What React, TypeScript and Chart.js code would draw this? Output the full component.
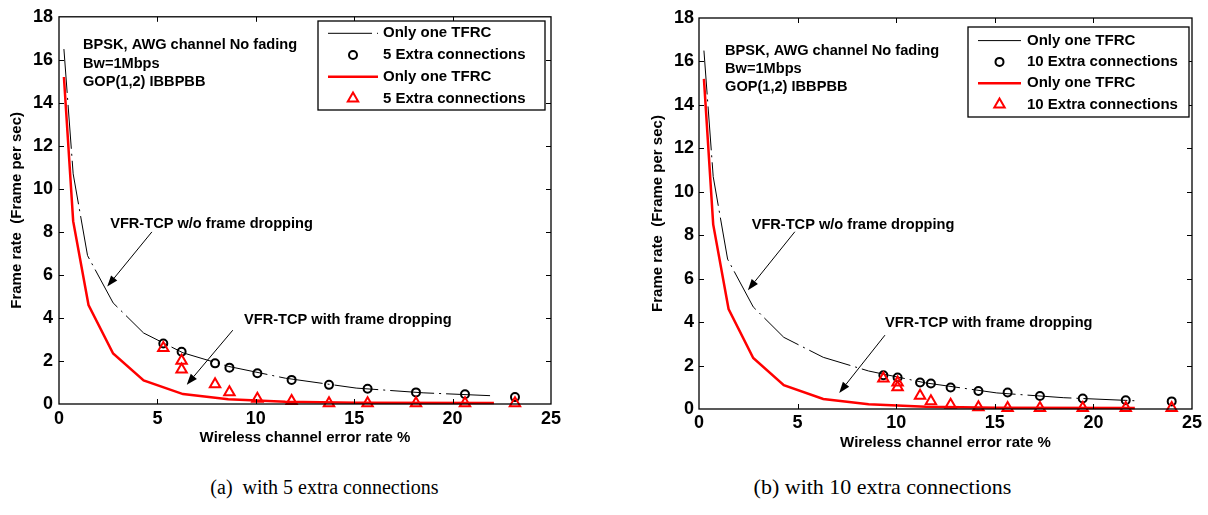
import React, { useEffect, useRef } from 'react';
import { Chart, registerables } from 'chart.js';

Chart.register(...registerables);

// ---------- data ----------
const xTickValues = [0, 5, 10, 15, 20, 25];
const yTickValues = [0, 2, 4, 6, 8, 10, 12, 14, 16, 18];

// "Only one TFRC" curves (same in both panels)
const tfrcNoDropX = [0.25, 0.72, 1.45, 2.75, 4.3, 6.3, 8.6, 11.5, 15.1, 18.5, 22.1];
const tfrcNoDropY = [16.5, 10.7, 6.9, 4.7, 3.3, 2.38, 1.75, 1.2, 0.74, 0.52, 0.38];
const tfrcDropX = [0.25, 0.72, 1.5, 2.75, 4.3, 6.3, 8.6, 11.5, 15.1, 22.1];
const tfrcDropY = [15.2, 8.5, 4.6, 2.35, 1.1, 0.46, 0.22, 0.1, 0.06, 0.05];

// 5 extra connections
const extra5NoDropX = [5.3, 6.23, 7.93, 8.66, 10.08, 11.82, 13.72, 15.68, 18.14, 20.63, 23.17];
const extra5NoDropY = [2.81, 2.43, 1.89, 1.69, 1.43, 1.12, 0.89, 0.71, 0.54, 0.45, 0.32];
const extra5DropX = [5.3, 6.23, 6.23, 7.93, 8.66, 10.08, 11.82, 13.72, 15.68, 18.14, 20.63, 23.17];
const extra5DropY = [2.6, 2.01, 1.6, 0.92, 0.55, 0.24, 0.14, 0.04, 0.04, 0.04, 0.04, 0.04];

// 10 extra connections
const extra10NoDropX = [9.35, 10.07, 11.21, 11.76, 12.76, 14.17, 15.65, 17.29, 19.46, 21.64, 23.97];
const extra10NoDropY = [1.55, 1.45, 1.22, 1.17, 0.99, 0.83, 0.76, 0.6, 0.48, 0.4, 0.35];
const extra10DropX = [9.35, 10.07, 10.07, 11.21, 11.76, 12.76, 14.17, 15.65, 17.29, 19.46, 21.64, 23.97];
const extra10DropY = [1.4, 1.22, 1.0, 0.61, 0.36, 0.2, 0.08, 0.05, 0.05, 0.05, 0.05, 0.05];

// ---------- text ----------
const xTitle = 'Wireless channel error rate %';
const yTitle = 'Frame rate  (Frame per sec)';
const lineLabel = 'Only one TFRC';
const label5 = '5 Extra connections';
const label10 = '10 Extra connections';
const setupLines = ['BPSK, AWG channel No fading', 'Bw=1Mbps', 'GOP(1,2) IBBPBB'];
const noDropNote = 'VFR-TCP w/o frame dropping';
const dropNote = 'VFR-TCP with frame dropping';
const captionA = '(a)  with 5 extra connections';
const captionB = '(b) with 10 extra connections';

const FONT = '"Liberation Sans", Arial, Helvetica, sans-serif';

const zip = (xs: number[], ys: number[]) => xs.map((x, i) => ({ x, y: ys[i] }));

type Note = { lines: string[]; x: number; y: number; gap: number };
type Arrow = { from: [number, number]; to: [number, number] };
type LegendBox = {
  x: number; y: number; w: number; h: number;
  row0: number; rowGap: number; sample0: number; sample1: number; textX: number;
};

interface PanelProps {
  left: number;
  width: number;
  height: number;
  area: { left: number; top: number; right: number; bottom: number };
  yTitlePad: number;
  xTitlePad: number;
  xTickPad: number;
  yTickPad: number;
  markerLabel: string;
  circX: number[];
  circY: number[];
  triX: number[];
  triY: number[];
  notes: Note[];
  arrows: Arrow[];
  legend: LegendBox;
}

function drawMarker(ctx: CanvasRenderingContext2D, style: string, x: number, y: number, r: number) {
  ctx.beginPath();
  if (style === 'triangle') {
    let rad = 0;
    ctx.moveTo(x + Math.sin(rad) * r, y - Math.cos(rad) * r);
    rad += (2 * Math.PI) / 3;
    ctx.lineTo(x + Math.sin(rad) * r, y - Math.cos(rad) * r);
    rad += (2 * Math.PI) / 3;
    ctx.lineTo(x + Math.sin(rad) * r, y - Math.cos(rad) * r);
    ctx.closePath();
  } else {
    ctx.arc(x, y, r, 0, Math.PI * 2);
  }
  ctx.stroke();
}

function Panel(p: PanelProps) {
  const ref = useRef<HTMLCanvasElement>(null);

  useEffect(() => {
    const canvas = ref.current;
    if (!canvas) return;
    const a = p.area;
    const tickFont = { family: FONT, size: 18, weight: 'bold' as const };
    const titleFont = { family: FONT, size: 15, weight: 'bold' as const };

    const framePlugin = {
      id: 'frame',
      afterDatasetsDraw(chart: any) {
        const { ctx, chartArea: ca, scales } = chart;
        ctx.save();
        ctx.strokeStyle = '#000';
        ctx.lineWidth = 1;
        const L = 5;
        ctx.beginPath();
        scales.x.ticks.forEach((t: any) => {
          const px = Math.round(scales.x.getPixelForValue(t.value)) + 0.5;
          if (px <= ca.left + 2 || px >= ca.right - 2) return;
          ctx.moveTo(px, ca.bottom);
          ctx.lineTo(px, ca.bottom - L);
          ctx.moveTo(px, ca.top);
          ctx.lineTo(px, ca.top + L);
        });
        scales.y.ticks.forEach((t: any) => {
          const py = Math.round(scales.y.getPixelForValue(t.value)) + 0.5;
          if (py <= ca.top + 2 || py >= ca.bottom - 2) return;
          ctx.moveTo(ca.left, py);
          ctx.lineTo(ca.left + L, py);
          ctx.moveTo(ca.right, py);
          ctx.lineTo(ca.right - L, py);
        });
        ctx.stroke();
        ctx.lineWidth = 1.3;
        ctx.strokeRect(ca.left, ca.top, ca.right - ca.left, ca.bottom - ca.top);
        ctx.restore();
      },
    };

    const notesPlugin = {
      id: 'notes',
      afterDraw(chart: any) {
        const { ctx, scales } = chart;
        ctx.save();
        ctx.fillStyle = '#000';
        ctx.strokeStyle = '#000';
        ctx.font = `bold 14.6px ${FONT}`;
        ctx.textAlign = 'left';
        ctx.textBaseline = 'middle';
        p.notes.forEach((n) => {
          const x = scales.x.getPixelForValue(n.x);
          const y = scales.y.getPixelForValue(n.y);
          n.lines.forEach((t, i) => ctx.fillText(t, x, y + i * n.gap));
        });
        p.arrows.forEach((ar) => {
          const x1 = scales.x.getPixelForValue(ar.from[0]);
          const y1 = scales.y.getPixelForValue(ar.from[1]);
          const x2 = scales.x.getPixelForValue(ar.to[0]);
          const y2 = scales.y.getPixelForValue(ar.to[1]);
          const ang = Math.atan2(y2 - y1, x2 - x1);
          const len = 11;
          const half = 4;
          const bx = x2 - Math.cos(ang) * len;
          const by = y2 - Math.sin(ang) * len;
          ctx.lineWidth = 1;
          ctx.beginPath();
          ctx.moveTo(x1, y1);
          ctx.lineTo(bx, by);
          ctx.stroke();
          ctx.beginPath();
          ctx.moveTo(x2, y2);
          ctx.lineTo(bx + Math.sin(ang) * half, by - Math.cos(ang) * half);
          ctx.lineTo(bx - Math.sin(ang) * half, by + Math.cos(ang) * half);
          ctx.closePath();
          ctx.fill();
        });
        ctx.restore();
      },
    };

    const legendPlugin = {
      id: 'boxLegend',
      afterDraw(chart: any) {
        const { ctx } = chart;
        const b = p.legend;
        ctx.save();
        ctx.fillStyle = '#fff';
        ctx.fillRect(b.x, b.y, b.w, b.h);
        ctx.strokeStyle = '#000';
        ctx.lineWidth = 1.3;
        ctx.strokeRect(b.x, b.y, b.w, b.h);
        chart.data.datasets.forEach((ds: any, i: number) => {
          const cy = b.y + b.row0 + i * b.rowGap;
          ctx.save();
          ctx.strokeStyle = ds.borderColor;
          if (ds.showLine) {
            ctx.lineWidth = ds.borderWidth;
            ctx.setLineDash(ds.borderDash || []);
            ctx.beginPath();
            ctx.moveTo(b.x + b.sample0, cy);
            ctx.lineTo(b.x + b.sample1, cy);
            ctx.stroke();
          } else {
            ctx.lineWidth = ds.pointBorderWidth;
            drawMarker(ctx, ds.pointStyle, b.x + (b.sample0 + b.sample1) / 2, cy, ds.pointRadius);
          }
          ctx.restore();
          ctx.fillStyle = '#000';
          ctx.font = `bold 15px ${FONT}`;
          ctx.textAlign = 'left';
          ctx.textBaseline = 'middle';
          ctx.fillText(ds.label, b.x + b.textX, cy);
        });
        ctx.restore();
      },
    };

    const chart = new Chart(canvas, {
      type: 'scatter',
      data: {
        datasets: [
          {
            label: lineLabel,
            data: zip(tfrcNoDropX, tfrcNoDropY),
            showLine: true,
            borderColor: '#000',
            borderWidth: 1,
            borderDash: [44, 5, 2, 5],
            pointRadius: 0,
            order: 4,
            clip: false,
          } as any,
          {
            label: p.markerLabel,
            data: zip(p.circX, p.circY),
            showLine: false,
            pointStyle: 'circle',
            pointRadius: 4,
            pointBorderWidth: 2,
            borderColor: '#000',
            pointBorderColor: '#000',
            pointBackgroundColor: 'rgba(0,0,0,0)',
            backgroundColor: 'rgba(0,0,0,0)',
            order: 3,
            clip: false,
          },
          {
            label: lineLabel,
            data: zip(tfrcDropX, tfrcDropY),
            showLine: true,
            borderColor: '#ff0000',
            borderWidth: 2.5,
            pointRadius: 0,
            order: 2,
            clip: false,
          },
          {
            label: p.markerLabel,
            data: zip(p.triX, p.triY),
            showLine: false,
            pointStyle: 'triangle',
            pointRadius: 6,
            pointBorderWidth: 2,
            borderColor: '#ff0000',
            pointBorderColor: '#ff0000',
            pointBackgroundColor: 'rgba(0,0,0,0)',
            backgroundColor: 'rgba(0,0,0,0)',
            order: 1,
            clip: false,
          },
        ],
      },
      options: {
        responsive: false,
        animation: false,
        events: [],
        layout: { padding: { left: 0, top: a.top, right: p.width - a.right, bottom: 0 } },
        plugins: { legend: { display: false }, tooltip: { enabled: false } },
        scales: {
          x: {
            type: 'linear',
            min: 0,
            max: 25,
            afterBuildTicks: (s: any) => {
              s.ticks = xTickValues.map((v) => ({ value: v }));
            },
            afterFit: (s: any) => {
              s.height = p.height - a.bottom;
            },
            grid: { display: false, drawTicks: false, tickLength: 0 },
            border: { display: false },
            ticks: { color: '#000', font: tickFont, padding: p.xTickPad, maxRotation: 0, autoSkip: false },
            title: {
              display: true,
              text: xTitle,
              color: '#000',
              font: titleFont,
              padding: { top: 0, bottom: p.xTitlePad },
            },
          },
          y: {
            type: 'linear',
            min: 0,
            max: 18,
            afterBuildTicks: (s: any) => {
              s.ticks = yTickValues.map((v) => ({ value: v }));
            },
            afterFit: (s: any) => {
              s.width = a.left;
            },
            grid: { display: false, drawTicks: false, tickLength: 0 },
            border: { display: false },
            ticks: { color: '#000', font: tickFont, padding: p.yTickPad, autoSkip: false },
            title: {
              display: true,
              text: yTitle,
              color: '#000',
              font: titleFont,
              padding: { top: p.yTitlePad, bottom: 0 },
            },
          },
        },
      } as any,
      plugins: [framePlugin, notesPlugin, legendPlugin],
    });
    return () => chart.destroy();
  }, []);

  return (
    <canvas
      ref={ref}
      width={p.width}
      height={p.height}
      style={{ position: 'absolute', left: p.left, top: 0, width: p.width, height: p.height }}
    />
  );
}

const captionStyle: React.CSSProperties = {
  position: 'absolute',
  top: 475,
  transform: 'translateX(-50%)',
  fontFamily: '"Liberation Serif", "Times New Roman", serif',
  lineHeight: '24px',
  whiteSpace: 'pre',
  color: '#000',
};

export default function App() {
  return (
    <div
      style={{
        position: 'absolute',
        left: 0,
        top: 0,
        width: 1208,
        height: 515,
        background: '#fff',
        overflow: 'hidden',
      }}
    >
      <Panel
        left={0}
        width={604}
        height={460}
        area={{ left: 59, top: 14, right: 551, bottom: 404 }}
        yTitlePad={7.5}
        xTitlePad={13}
        xTickPad={4}
        yTickPad={6}
        markerLabel={label5}
        circX={extra5NoDropX}
        circY={extra5NoDropY}
        triX={extra5DropX}
        triY={extra5DropY}
        notes={[
          { lines: setupLines, x: 1.22, y: 16.7, gap: 18.8 },
          { lines: [noDropNote], x: 2.6, y: 8.38, gap: 0 },
          { lines: [dropNote], x: 9.4, y: 3.89, gap: 0 },
        ]}
        arrows={[
          { from: [4.72, 8.0], to: [2.45, 5.46] },
          { from: [8.83, 3.43], to: [6.49, 0.89] },
        ]}
        legend={{ x: 318, y: 21, w: 227, h: 89, row0: 12.3, rowGap: 21.7, sample0: 10, sample1: 60, textX: 65 }}
      />
      <Panel
        left={604}
        width={604}
        height={460}
        area={{ left: 95, top: 18, right: 588, bottom: 409 }}
        yTitlePad={45}
        xTitlePad={8}
        xTickPad={3}
        yTickPad={5}
        markerLabel={label10}
        circX={extra10NoDropX}
        circY={extra10NoDropY}
        triX={extra10DropX}
        triY={extra10DropY}
        notes={[
          { lines: setupLines, x: 1.32, y: 16.47, gap: 18 },
          { lines: [noDropNote], x: 2.67, y: 8.47, gap: 0 },
          { lines: [dropNote], x: 9.43, y: 3.94, gap: 0 },
        ]}
        arrows={[
          { from: [4.86, 8.16], to: [2.48, 5.47] },
          { from: [9.43, 3.4], to: [7.11, 0.74] },
        ]}
        legend={{ x: 364, y: 27, w: 221, h: 90, row0: 13.6, rowGap: 21.3, sample0: 10, sample1: 53, textX: 59 }}
      />
      <div style={{ ...captionStyle, left: 324.5, fontSize: 20 }}>{captionA}</div>
      <div style={{ ...captionStyle, left: 882.5, fontSize: 22 }}>{captionB}</div>
    </div>
  );
}
